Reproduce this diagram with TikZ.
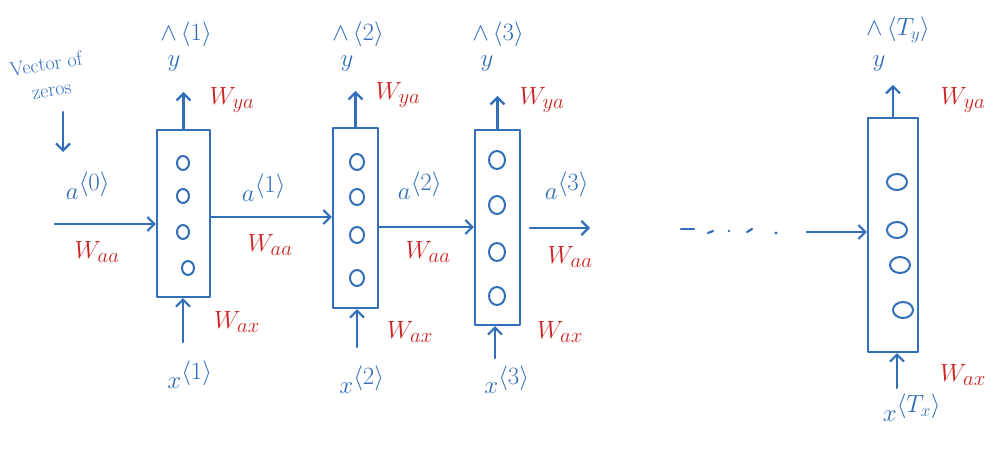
\documentclass[tikz,border=0pt]{standalone}
\usetikzlibrary{arrows.meta,calc}
\definecolor{penblue}{RGB}{50,110,185}
\definecolor{penred}{RGB}{205,35,35}
\tikzset{
  pen/.style={draw=penblue, line width=2.2pt, line cap=round, line join=round},
  arr/.style={pen, -{Straight Barb[length=7pt,width=14pt,line width=2.2pt]}},
  cell/.style={pen, rectangle, inner sep=0pt},
  lab/.style={text=penblue, font=\fontsize{38}{40}\selectfont, inner sep=1pt},
  hatlab/.style={text=penblue, font=\fontsize{24}{26}\selectfont, inner sep=1pt},
  wlab/.style={text=penred, font=\fontsize{29}{31}\selectfont, inner sep=1pt},
  note/.style={text=penblue, font=\fontsize{20}{20}\selectfont, inner sep=0pt},
  unit/.style={pen, line width=2pt}
}
\begin{document}
\begin{tikzpicture}[x=1pt,y=-1pt]
\useasboundingbox (0,0) rectangle (1003,449);

% cells
\node[cell, minimum width=53pt, minimum height=167pt] (b1) at (183.5,213.5) {};
\node[cell, minimum width=45pt, minimum height=180pt] (b2) at (355.5,218) {};
\node[cell, minimum width=45pt, minimum height=195pt] (b3) at (497.5,227.5) {};
\node[cell, minimum width=50pt, minimum height=234pt] (bT) at (893,235) {};

% units inside the cells
\foreach \p in {(183,163),(183,196),(183,232),(188,268)} \draw[unit] \p ellipse (6pt and 7pt);
\foreach \p in {(357,162),(357,197),(357,235),(357,278)} \draw[unit] \p ellipse (7pt and 8pt);
\foreach \p in {(497,160),(497,205),(497,252),(497,296)} \draw[unit] \p ellipse (8pt and 9pt);
\foreach \p in {(897,182),(897,230),(900,265),(903,310)} \draw[unit] \p ellipse (10pt and 8pt);

% outputs
\node[lab] (y1) at (174,64) {$y$};
\node[hatlab] (h1) at (186,34) {$\wedge\,\langle 1\rangle$};
\node[lab] (y2) at (347,64) {$y$};
\node[hatlab] (h2) at (358,34) {$\wedge\,\langle 2\rangle$};
\node[lab] (y3) at (487,64) {$y$};
\node[hatlab] (h3) at (498,34) {$\wedge\,\langle 3\rangle$};
\node[lab] (yT) at (879,64) {$y$};
\node[hatlab] (hT) at (898,30) {$\wedge\,\langle T_y\rangle$};
\node[wlab] (wy1) at (232,100) {$W_{ya}$};
\node[wlab] (wy2) at (398,95) {$W_{ya}$};
\node[wlab] (wy3) at (542,100) {$W_{ya}$};
\node[wlab] (wyT) at (963,100) {$W_{ya}$};
\draw[arr] (b1.north) -- ($(b1.north)+(0,-37)$) coordinate (t1);
\draw[arr] (b2.north) -- ($(b2.north)+(0,-36)$) coordinate (t2);
\draw[arr] (b3.north) -- ($(b3.north)+(0,-33)$) coordinate (t3);
\draw[arr] (bT.north) -- ($(bT.north)+(0,-32)$) coordinate (tT);

% inputs
\node[lab] (x1) at (190,375) {$x^{\langle 1\rangle}$};
\node[lab] (x2) at (362,380) {$x^{\langle 2\rangle}$};
\node[lab] (x3) at (507,380) {$x^{\langle 3\rangle}$};
\node[lab] (xT) at (912,408) {$x^{\langle T_x\rangle}$};
\node[wlab] (wx1) at (237,322) {$W_{ax}$};
\node[wlab] (wx2) at (410,332) {$W_{ax}$};
\node[wlab] (wx3) at (560,332) {$W_{ax}$};
\node[wlab] (wxT) at (963,375) {$W_{ax}$};
\coordinate (s1) at (183,342);
\coordinate (s2) at (357,347);
\coordinate (s3) at (495,358);
\coordinate (sT) at (897,388);
\draw[arr] (s1) -- (s1 |- b1.south);
\draw[arr] (s2) -- (s2 |- b2.south);
\draw[arr] (s3) -- (s3 |- b3.south);
\draw[arr] (sT) -- (sT |- bT.south);

% initial activation
\node[note, rotate=9] (vz1) at (46,64) {Vector of};
\node[note, rotate=9] (vz2) at (52,92) {zeros};
\coordinate (vzs) at (63,112);
\coordinate (vzt) at (63,152);
\draw[arr] (vzs) -- (vzt);
\node[lab] (a0) at (88,186) {$a^{\langle 0\rangle}$};
\node[wlab] (wa0) at (97,252) {$W_{aa}$};
\coordinate (a0s) at (55,224);
\draw[arr] (a0s) -- (a0s -| b1.west);

% recurrent connections
\node[lab] (a1) at (264,188) {$a^{\langle 1\rangle}$};
\node[wlab] (wa1) at (270,245) {$W_{aa}$};
\coordinate (r1) at (0,217);
\draw[arr] (b1.east |- r1) -- (b2.west |- r1);

\node[lab] (a2) at (420,186) {$a^{\langle 2\rangle}$};
\node[wlab] (wa2) at (428,252) {$W_{aa}$};
\coordinate (r2) at (0,227);
\draw[arr] (b2.east |- r2) -- (b3.west |- r2);

\node[lab] (a3) at (567,186) {$a^{\langle 3\rangle}$};
\node[wlab] (wa3) at (570,257) {$W_{aa}$};
\coordinate (r3s) at (530,228);
\coordinate (r3e) at (590,228);
\draw[arr] (r3s) -- (r3e);

% ellipsis and final connection
\draw[pen] (681,229) -- (694,229);
\draw[pen] (708,233) -- (713,231);
\fill[penblue] (729,231) circle (1.4pt);
\draw[pen] (747,232) -- (752,229);
\fill[penblue] (776,233) circle (1.6pt);
\coordinate (rTs) at (807,232);
\draw[arr] (rTs) -- (rTs -| bT.west);
\end{tikzpicture}
\end{document}
